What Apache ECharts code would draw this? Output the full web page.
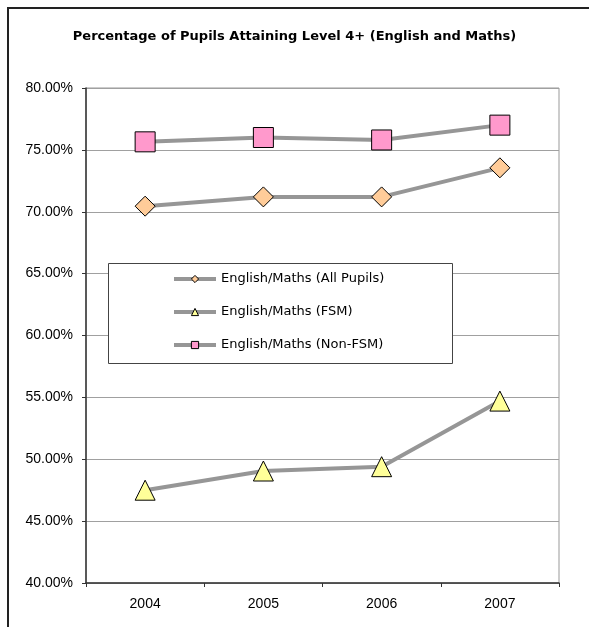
<!DOCTYPE html>
<html>
<head>
<meta charset="utf-8">
<script src="https://cdn.jsdelivr.net/npm/echarts@6/dist/echarts.min.js"></script>
<style>
html, body { margin: 0; padding: 0; background: #fff; }
#chart { width: 589px; height: 627px; }
</style>
</head>
<body>
<div id="chart"></div>
<script>
var years = ['2004', '2005', '2006', '2007'];
var allPupils = [70.45, 71.2, 71.2, 73.55];
var fsm = [47.5, 49.05, 49.4, 54.7];
var nonFsm = [75.65, 76.0, 75.8, 77.0];

var font = "'Liberation Sans', Arial, sans-serif";
var wideFont = "'DejaVu Sans', Verdana, sans-serif";

function lineSeries(name, data, symbol, color) {
    return {
        name: name,
        type: 'line',
        data: data,
        symbol: symbol,
        symbolSize: 20,
        lineStyle: { color: '#969696', width: 4 },
        itemStyle: { color: color, borderColor: '#000', borderWidth: 1 },
        emphasis: { disabled: true }
    };
}

var chart = echarts.init(document.getElementById('chart'));
var option = {
    backgroundColor: '#fff',
    animation: false,
    title: {
        text: 'Percentage of Pupils Attaining Level 4+ (English and Maths)',
        left: 'center',
        top: 25,
        textStyle: { fontFamily: wideFont, fontSize: 13, fontWeight: 'bold', color: '#000' }
    },
    grid: {
        left: 86, right: 30, top: 88, bottom: 44,
        show: true, borderColor: '#999', borderWidth: 1
    },
    graphic: [
        {
            type: 'rect', z: 5,
            shape: { x: 8, y: 8, width: 640, height: 680 },
            style: { fill: 'none', stroke: '#222', lineWidth: 2 }
        },
        {
            type: 'rect', z: 5,
            shape: { x: 108.5, y: 263.5, width: 344, height: 100 },
            style: { fill: '#fff', stroke: '#444', lineWidth: 1 }
        }
    ],
    legend: {
        orient: 'vertical',
        left: 167,
        top: 267,
        z: 10,
        itemWidth: 42,
        itemHeight: 9,
        itemGap: 19,
        lineStyle: { width: 4, color: '#969696' },
        itemStyle: { borderWidth: 1, borderColor: '#000' },
        textStyle: { fontFamily: wideFont, fontSize: 13, color: '#000', lineHeight: 14 },
        data: ['English/Maths (All Pupils)', 'English/Maths (FSM)', 'English/Maths (Non-FSM)']
    },
    xAxis: {
        type: 'category',
        data: years,
        boundaryGap: true,
        axisLine: { lineStyle: { color: '#333', width: 1.5 } },
        axisTick: { show: true, length: 4, lineStyle: { color: '#333' } },
        axisLabel: { fontFamily: font, fontSize: 14, color: '#000', margin: 14 }
    },
    yAxis: {
        type: 'value',
        min: 40,
        max: 80,
        interval: 5,
        axisLine: { show: true, lineStyle: { color: '#333', width: 1.5 } },
        axisTick: { show: true, length: 4, lineStyle: { color: '#333' } },
        splitLine: { lineStyle: { color: '#a0a0a0', width: 1 } },
        axisLabel: {
            fontFamily: font, fontSize: 14, color: '#000', margin: 13,
            formatter: function (v) { return v.toFixed(2) + '%'; }
        }
    },
    series: [
        lineSeries('English/Maths (All Pupils)', allPupils, 'diamond', '#FFCC99'),
        lineSeries('English/Maths (FSM)', fsm, 'triangle', '#FFFF99'),
        lineSeries('English/Maths (Non-FSM)', nonFsm, 'rect', '#FF99CC')
    ]
};

chart.setOption(option);
</script>
</body>
</html>
